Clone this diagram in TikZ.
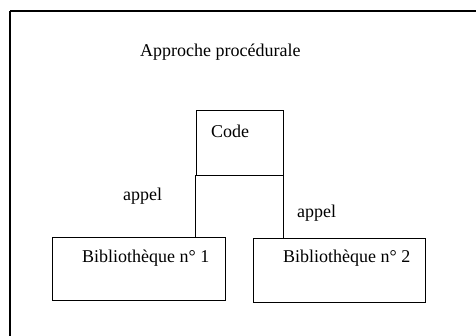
\documentclass[tikz,border=0pt]{standalone}
\usepackage{fontspec}
\setmainfont{Liberation Serif}
\begin{document}
\begin{tikzpicture}[x=1pt,y=-1pt,
  box/.style={draw,line width=0.8pt,rectangle,inner sep=0pt},
  lbl/.style={font=\fontsize{18}{20}\selectfont,inner sep=0pt,anchor=base west},
  link/.style={line width=0.8pt}]
\useasboundingbox (0,0) rectangle (476,336);
% frame
\draw[line width=1.8pt] (10,340) -- (10,11);
\draw[line width=1.2pt] (10,11) -- (480,11);
% title
\node[lbl] (title) at (140,57) {Approche procédurale};
% boxes
\node[box,minimum width=87pt,minimum height=65pt] (code) at (239.5,142.5) {};
\node[box,minimum width=173pt,minimum height=63pt] (bib1) at (138.5,268.5) {};
\node[box,minimum width=172pt,minimum height=64pt] (bib2) at (339,270) {};
% box texts
\node[lbl] (codet) at (211,138) {Code};
\node[lbl] (b1t) at (82,263) {Bibliothèque n° 1};
\node[lbl] (b2t) at (283,263) {Bibliothèque n° 2};
% call links
\draw[link] (code.south west) -- (code.south west |- bib1.north);
\draw[link] (code.south east) -- (code.south east |- bib2.north);
\node[lbl] (a1) at (123,201) {appel};
\node[lbl] (a2) at (297,218) {appel};
\end{tikzpicture}
\end{document}
